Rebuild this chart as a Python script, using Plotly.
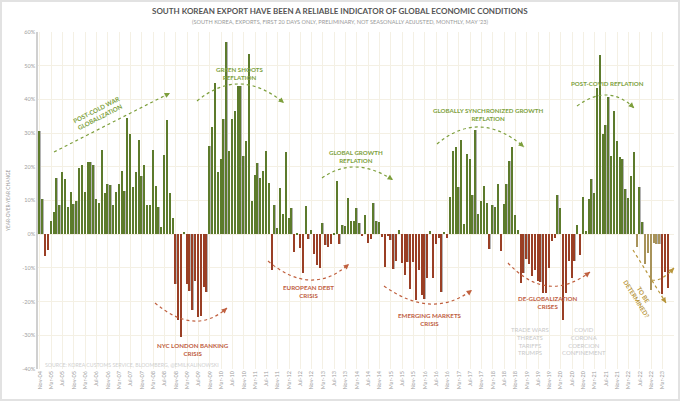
import pandas as pd
import plotly.graph_objects as go

# ---------------- DATA ----------------
values = [
    30.5, 10.5, -6.4, -4.7, 3.9, 6.6, 16.7, 8.8, 18.4, 16.3,
    8.0, 12.6, 9.1, 10.0, 19.7, 20.6, 12.6, 21.3, 21.3, 20.4,
    10.4, 9.4, 24.9, 12.1, 14.8, 14.5, 8.6, 12.5, 15.0, 18.9,
    12.7, 34.5, 29.6, 14.1, 18.4, 28.1, 17.4, 20.4, 8.8, 8.8,
    25.0, 14.4, 8.1, 2.0, 23.4, 33.8, 12.1, 4.9, -14.7, -25.5,
    -30.5, 0.6, -14.7, -17.0, -22.4, -13.8, -24.6, -24.4, -15.8, -17.2,
    26.3, 31.7, 44.8, 18.4, 22.2, 34.3, 56.9, 24.6, 34.2, 36.5,
    44.0, 44.0, 23.2, 27.6, 53.5, 9.9,
    17.5, 21.0, 16.6, 18.9, 24.6, 15.2, -10.6, 8.7, 1.8, 13.6,
    5.9, 24.4, 4.8, 7.7, -5.4, 0.2, -4.0, -11.4, 8.3, -1.5,
    1.2, -5.9, -9.2, -10.0, 3.2, -3.2, -3.7, -3.0, 0.2, 15.9,
    -3.0, 2.6, 2.5, 10.6, 3.8, 3.8, 7.8, 3.2, -0.6, 5.8,
    -2.6, -1.3, 9.3, 3.8, 3.5, -0.8, -9.6, -0.4, -1.8, -10.3,
    -7.9, 1.2, -8.6, -12.0, -8.2, -16.4, -8.2, -19.4, -10.6, -17.9,
    -19.3, -13.1, 1.0, -13.1, -3.0, -1.0, -17.2, 0.8, -1.0, 11.0,
    24.6, 25.9, 14.0, 28.1, 3.0, 23.9,
    22.4, 11.5, 31.0, 6.1, 10.0, 14.4, 9.2, -4.4, 8.6, 8.2,
    14.9, -4.9, 9.1, 15.0, 21.8, 26.0, 5.6, 1.2, -14.5, -11.6,
    -7.4, -8.7, -12.3, -10.6, -13.8, -14.1, -17.4, -17.4, -9.9, -2.0,
    -1.0, 11.6, 7.9, -25.6, -17.4, -7.9, -13.0, -7.9, 2.7, -6.1,
    11.0, 1.0, 10.5, 16.5, 12.3, 43.3, 53.2, 29.6, 32.5, 40.6,
    23.2, 36.7, 27.6, 22.9, 22.2, 13.3, 10.8, 17.2, 24.3, -3.7,
    14.1, 3.7, -8.9, -5.7, -16.7, -2.5, -2.8, -2.8, -17.7, -11.3, -16.1,
]
months = pd.date_range("2004-11-01", periods=len(values), freq="MS").strftime("%b-%y").tolist()
tbd_months = ["Jun-22", "Sep-22", "Oct-22", "Nov-22", "Dec-22", "Jan-23", "Feb-23"]
y_ticks = [60, 50, 40, 30, 20, 10, 0, -10, -20, -30, -40]
y_ticktext = ["60%", "50%", "40%", "30%", "20%", "10%", "0%", "-10%", "-20%", "-30%", "-40%"]

# ---------------- STYLE ----------------
GREEN = "#5d7b2c"
RED = "#9a3f25"
TAN = "#a8935a"
SHADOW = "#b4b4b4"
TXT_GREEN = "#7d9f3c"
TXT_RED = "#c0603f"
TXT_TAN = "#b8963c"
GRID = "#f4f0e4"
FONT = "Lato"
DASH = "3px,3px"

colors = []
for m, v in zip(months, values):
    if m in tbd_months and v < 0:
        colors.append(TAN)
    elif v >= 0:
        colors.append(GREEN)
    else:
        colors.append(RED)

W, H = 680, 401
L, R, T, B = 38, 6, 32, 32
PW, PH = W - L - R, H - T - B


def px(x):
    return (x - L) / PW


def py(y):
    return (H - B - y) / PH


fig = go.Figure()
fig.add_trace(go.Bar(x=months, y=values, marker=dict(color=SHADOW, line=dict(width=0)),
                     width=0.62, offset=-0.35, hoverinfo="skip", showlegend=False))
fig.add_trace(go.Bar(x=months, y=values, marker=dict(color=colors, line=dict(width=0)),
                     width=0.4, offset=-0.35, showlegend=False))

shapes = []
annotations = []


def text(x, y, s, color, size=6.2, angle=0, anchor="center", bold=True, family=FONT):
    annotations.append(dict(
        x=px(x), y=py(y), xref="paper", yref="paper", text=s, showarrow=False,
        xanchor=anchor, yanchor="middle", textangle=angle,
        font=dict(family=family, size=size, color=color,
                  weight="bold" if bold else "normal"),
    ))


def head(tip, tail_dir, color):
    dx, dy = tail_dir
    n = (dx * dx + dy * dy) ** 0.5
    annotations.append(dict(
        x=px(tip[0]), y=py(tip[1]), xref="paper", yref="paper", text="",
        showarrow=True, arrowhead=2, arrowsize=0.9, arrowwidth=1.2, arrowcolor=color,
        ax=-dx / n * 5, ay=-dy / n * 5,
    ))


def arc(S, M, E, color):
    C = (2 * M[0] - (S[0] + E[0]) / 2, 2 * M[1] - (S[1] + E[1]) / 2)
    path = "M {} {} Q {} {} {} {}".format(px(S[0]), py(S[1]), px(C[0]), py(C[1]), px(E[0]), py(E[1]))
    shapes.append(dict(type="path", path=path, xref="paper", yref="paper",
                       line=dict(color=color, width=1.2, dash=DASH)))
    head(E, (E[0] - C[0], E[1] - C[1]), color)


def straight(S, E, color):
    shapes.append(dict(type="line", x0=px(S[0]), y0=py(S[1]), x1=px(E[0]), y1=py(E[1]),
                       xref="paper", yref="paper", line=dict(color=color, width=1.2, dash=DASH)))
    head(E, (E[0] - S[0], E[1] - S[1]), color)


# titles
text(340, 11, "SOUTH KOREAN EXPORT HAVE BEEN A RELIABLE INDICATOR OF GLOBAL ECONOMIC CONDITIONS", "#555555", size=8)
text(340, 21, "(SOUTH KOREA, EXPORTS, FIRST 20 DAYS ONLY, PRELIMINARY, NOT SEASONALLY ADJUSTED, MONTHLY, MAY '23)",
     "#9a9a9a", size=5.6, bold=False)
text(8, 200, "YEAR-OVER-YEAR CHANGE", "#999999", size=4.8, angle=-90, bold=False)
text(43, 365, "SOURCE: KOREA CUSTOMS SERVICE, BLOOMBERG, @EMILKALINOWSKI", "#cfcfcf", size=5.2, anchor="left", bold=False)

# green annotations
text(98, 114, "POST-COLD WAR<br>GLOBALIZATION", TXT_GREEN, angle=-27)
straight((54, 152), (170, 93), TXT_GREEN)
text(240, 73, "GREEN SHOOTS<br>REFLATION", TXT_GREEN)
arc((197, 101), (240, 84), (284, 103), TXT_GREEN)
text(356, 156, "GLOBAL GROWTH<br>REFLATION", TXT_GREEN)
arc((322, 178), (356, 167), (393, 180), TXT_GREEN)
text(488, 115, "GLOBALLY SYNCHRONIZED GROWTH<br>REFLATION", TXT_GREEN)
arc((437, 144), (480, 127), (524, 147), TXT_GREEN)
text(607, 83, "POST-COVID REFLATION", TXT_GREEN)
arc((577, 106), (607, 95), (634, 108), TXT_GREEN)

# red annotations
text(193, 349, "NYC LONDON BANKING<br>CRISIS", TXT_RED)
arc((155, 303), (193, 321), (227, 308), TXT_RED)
text(308, 291, "EUROPEAN DEBT<br>CRISIS", TXT_RED)
arc((268, 261), (310, 280), (349, 264), TXT_RED)
text(430, 319, "EMERGING MARKETS<br>CRISIS", TXT_RED)
arc((384, 286), (430, 304), (472, 290), TXT_RED)
text(548, 302, "DE-GLOBALIZATION<br>CRISES", TXT_RED)
arc((508, 263), (548, 286), (590, 272), TXT_RED)

# grey annotations
text(530, 341, "TRADE WARS<br>THREATS<br>TARIFFS<br>TRUMPS", "#c9c9c9", size=6, bold=False)
text(584, 341, "COVID<br>CORONA<br>COERCION<br>CONFINEMENT", "#c9c9c9", size=6, bold=False)

# to be determined
text(640, 296, "TO BE<br>DETERMINED?", TXT_TAN, angle=58)
straight((633, 250), (666, 303), TXT_TAN)
arc((652, 280), (662, 278), (674, 268), TXT_TAN)

# outer frame
shapes.append(dict(type="rect", x0=px(1), x1=px(679), y0=py(1), y1=py(400), xref="paper", yref="paper",
                   line=dict(color="#e2e2e2", width=2), layer="below"))

fig.update_layout(
    width=W, height=H,
    margin=dict(l=L, r=R, t=T, b=B),
    paper_bgcolor="white", plot_bgcolor="white",
    barmode="overlay", bargap=0,
    font=dict(family=FONT, color="#999999"),
    shapes=shapes, annotations=annotations,
    xaxis=dict(
        type="category", categoryorder="array", categoryarray=months,
        range=[-0.7, -0.7 + PW / 2.83],
        tickmode="array", tickvals=months[::4], ticktext=months[::4],
        tickangle=-90, tickfont=dict(size=5.5, color="#a0a0a0", family=FONT),
        showgrid=True, gridcolor=GRID, gridwidth=1,
        showline=False, zeroline=False, ticks="",
    ),
    yaxis=dict(
        range=[-40, 60], tickmode="array", tickvals=y_ticks, ticktext=y_ticktext,
        tickfont=dict(size=5.5, color="#a0a0a0", family=FONT),
        showgrid=True, gridcolor=GRID, gridwidth=1,
        zeroline=False, showline=True, linecolor="#d0d0d0", linewidth=1.5, ticks="",
    ),
)

fig.write_html("out.html")
